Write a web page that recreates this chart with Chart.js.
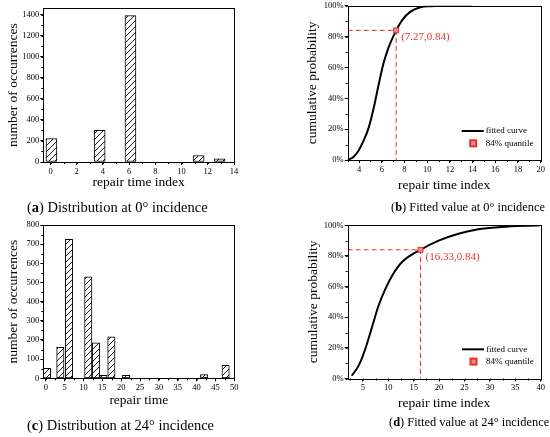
<!DOCTYPE html>
<html>
<head>
<meta charset="utf-8">
<script src="https://cdn.jsdelivr.net/npm/chart.js@4.4.0/dist/chart.umd.min.js"></script>
<style>
  body { margin: 0; background: #fff; }
  #page { position: relative; width: 550px; height: 437px; overflow: hidden; background: #fff; }
  canvas { position: absolute; }
  .caption { position: absolute; font-family: 'Liberation Serif', 'Times New Roman', serif; font-size: 14.5px; line-height: 16px; color: #000; white-space: nowrap; }
  .caption.narrow { font-size: 12.4px; }
</style>
</head>
<body>
<div id="page">
  <canvas id="chartA" width="250" height="200" style="left:0;top:0"></canvas>
  <canvas id="chartB" width="275" height="200" style="left:275px;top:0"></canvas>
  <canvas id="chartC" width="250" height="200" style="left:0;top:220px"></canvas>
  <canvas id="chartD" width="275" height="200" style="left:275px;top:220px"></canvas>
  <div class="caption" style="left:27px;top:199px">(<b>a</b>) Distribution at 0° incidence</div>
  <div class="caption narrow" style="left:391px;top:199px">(<b>b</b>) Fitted value at 0° incidence</div>
  <div class="caption" style="left:27px;top:417px">(<b>c</b>) Distribution at 24° incidence</div>
  <div class="caption narrow" style="left:389px;top:414px">(<b>d</b>) Fitted value at 24° incidence</div>
</div>
<script>
// (a) occurrences at 0° incidence
const aTimes = [0.07, 3.75, 6.1, 11.3, 12.9];
const aCounts = [222, 300, 1390, 62, 30];
const aXRange = [-0.55, 14];
const aYRange = [0, 1460];

// (c) occurrences at 24° incidence
const cTimes = [0.35, 3.87, 6.15, 11.27, 13.3, 15.3, 17.4, 21.3, 42.0, 47.7];
const cCounts = [52, 161, 725, 529, 185, 15, 217, 15, 19, 68];
const cXRange = [-0.65, 50];
const cYRange = [0, 800];

// (b) fitted cumulative curve at 0° incidence
const bX = [3.0, 3.5, 3.95, 4.4, 4.85, 5.3, 5.7, 6.15, 6.6, 7.27, 7.8, 8.5, 9.4, 10.3, 12, 14];
const bY = [0, 0.02, 0.06, 0.125, 0.21, 0.34, 0.48, 0.625, 0.73, 0.84, 0.907, 0.96, 0.99, 0.997, 1, 1];
const bQuant = [7.27, 0.84];
const bXRange = [3, 20];

// (d) fitted cumulative curve at 24° incidence
const dX = [2.8, 4.2, 5.5, 6.8, 8.1, 9.45, 10.8, 12.7, 16.33, 19.9, 23.8, 27.7, 32.3, 36.9, 40];
const dY = [0.018, 0.087, 0.196, 0.337, 0.478, 0.587, 0.674, 0.76, 0.84, 0.90, 0.945, 0.974, 0.989, 0.997, 1.0];
const dQuant = [16.33, 0.84];
const dXRange = [2, 40];

const SERIF = "'Liberation Serif', 'Times New Roman', serif";
const RED = '#e8302c';

// diagonal hatch fill for the bars
function hatch() {
    const c = document.createElement('canvas');
    c.width = 6; c.height = 6;
    const g = c.getContext('2d');
    g.fillStyle = '#fff';
    g.fillRect(0, 0, 6, 6);
    g.strokeStyle = '#000';
    g.lineWidth = 0.9;
    [[-1, 7, 7, -1], [-1, 1, 1, -1], [5, 7, 7, 5]].forEach(([x1, y1, x2, y2]) => {
        g.beginPath(); g.moveTo(x1, y1); g.lineTo(x2, y2); g.stroke();
    });
    return g.createPattern(c, 'repeat');
}

// box round the plot area
const frame = {
    id: 'frame',
    afterDatasetsDraw(chart) {
        const { ctx, chartArea: a } = chart;
        ctx.save();
        ctx.strokeStyle = '#000';
        ctx.lineWidth = 1;
        ctx.strokeRect(Math.round(a.left) + 0.5, Math.round(a.top) + 0.5,
            Math.round(a.right) - Math.round(a.left), Math.round(a.bottom) - Math.round(a.top));
        ctx.restore();
    }
};

// small ticks between the labelled ones
const minorTicks = {
    id: 'minorTicks',
    afterDraw(chart, args, opts) {
        const { ctx, chartArea: a } = chart;
        ctx.save();
        ctx.strokeStyle = '#000';
        ctx.lineWidth = 1;
        ['x', 'y'].forEach(id => {
            const step = opts[id];
            if (!step) return;
            const sc = chart.scales[id];
            for (let v = Math.ceil(sc.min / step) * step; v <= sc.max + 1e-9; v += step) {
                const p = Math.round(sc.getPixelForValue(v)) + 0.5;
                ctx.beginPath();
                if (id === 'x') { ctx.moveTo(p, a.bottom); ctx.lineTo(p, a.bottom + 2); }
                else { ctx.moveTo(a.left, p); ctx.lineTo(a.left - 2, p); }
                ctx.stroke();
            }
        });
        ctx.restore();
    }
};

// legend inside the plot
const innerLegend = {
    id: 'innerLegend',
    afterDraw(chart, args, o) {
        if (o.x === undefined) return;
        const ctx = chart.ctx;
        ctx.save();
        ctx.font = '9px ' + SERIF;
        ctx.textBaseline = 'middle';
        ctx.fillStyle = '#000';
        let y = o.y;
        chart.data.datasets.forEach(ds => {
            if (!ds.label) return;
            if (ds.showLine === false) {
                ctx.fillStyle = ds.backgroundColor;
                ctx.strokeStyle = ds.borderColor;
                ctx.fillRect(o.x + 8.5, y - 3, 6, 6);
                ctx.strokeRect(o.x + 8.5, y - 3, 6, 6);
            } else {
                ctx.strokeStyle = ds.borderColor;
                ctx.lineWidth = ds.borderWidth;
                ctx.beginPath(); ctx.moveTo(o.x, y); ctx.lineTo(o.x + 22, y); ctx.stroke();
            }
            ctx.fillStyle = '#000';
            ctx.fillText(ds.label, o.x + 24, y);
            y += o.gap;
        });
        ctx.restore();
    }
};

// coordinate note beside the quantile point
const pointNote = {
    id: 'pointNote',
    afterDatasetsDraw(chart) {
        const ctx = chart.ctx;
        chart.data.datasets.forEach((ds, i) => {
            if (!ds.note) return;
            const pt = chart.getDatasetMeta(i).data[0];
            ctx.save();
            ctx.font = '11px ' + SERIF;
            ctx.fillStyle = RED;
            ctx.textBaseline = 'middle';
            ctx.fillText(ds.note, pt.x + 5, pt.y + 7);
            ctx.restore();
        });
    }
};

function makeAxis(o) {
    const left = o.position === 'left';
    return {
        type: 'linear',
        position: o.position,
        min: o.range[0],
        max: o.range[1],
        offset: false,
        grid: { display: true, drawOnChartArea: false, drawTicks: true, tickLength: 3, color: '#000', offset: false },
        border: { display: false },
        ticks: {
            stepSize: o.step,
            includeBounds: false,
            autoSkip: false,
            maxRotation: 0,
            color: '#000',
            padding: left ? 1 : 1.5,
            font: { family: SERIF, size: 8.5 },
            callback: o.fmt || (v => String(v))
        },
        title: {
            display: true,
            text: o.title,
            color: '#000',
            font: { family: SERIF, size: 13.5 },
            padding: left ? { top: o.titlePad, bottom: 0 } : { top: 0, bottom: o.titlePad }
        },
        afterFit: s => {
            if (left) s.width = o.size; else s.height = o.size;
            s.paddingLeft = s.paddingRight = s.paddingTop = s.paddingBottom = 0;
        }
    };
}

function baseOptions(pad, xAxis, yAxis, minor, legend) {
    return {
        responsive: false,
        animation: false,
        layout: { padding: pad, autoPadding: false },
        plugins: {
            legend: { display: false },
            tooltip: { enabled: false },
            minorTicks: minor,
            innerLegend: legend || {}
        },
        scales: { x: xAxis, y: yAxis }
    };
}

const pct = v => Math.round(v * 100) + '%';

function barChart(id, times, counts, xr, yr, xStep, yStep, barW, pad, sizes, titles, minor) {
    return new Chart(document.getElementById(id), {
        type: 'bar',
        data: {
            datasets: [{
                data: times.map((t, i) => ({ x: t, y: counts[i] })),
                backgroundColor: hatch(),
                borderColor: '#000',
                borderWidth: 1,
                borderSkipped: false,
                barThickness: barW
            }]
        },
        options: baseOptions(pad,
            makeAxis({ position: 'bottom', range: xr, step: xStep, title: titles[0], size: sizes[0], titlePad: sizes[2] }),
            makeAxis({ position: 'left', range: yr, step: yStep, title: titles[1], size: sizes[1], titlePad: sizes[3] }),
            minor),
        plugins: [frame, minorTicks]
    });
}

function cdfChart(id, xs, ys, quant, xr, xStep, pad, sizes, legendAt, minor) {
    return new Chart(document.getElementById(id), {
        type: 'line',
        data: {
            datasets: [
                {
                    label: 'fitted curve',
                    data: xs.map((x, i) => ({ x, y: ys[i] })),
                    borderColor: '#000',
                    borderWidth: 2,
                    pointRadius: 0,
                    cubicInterpolationMode: 'monotone',
                    order: 1
                },
                {
                    label: '',
                    data: [{ x: xr[0], y: quant[1] }, { x: quant[0], y: quant[1] }, { x: quant[0], y: 0 }],
                    borderColor: RED,
                    borderWidth: 1,
                    borderDash: [5, 3],
                    pointRadius: 0,
                    order: 2
                },
                {
                    label: '84% quantile',
                    data: [{ x: quant[0], y: quant[1] }],
                    showLine: false,
                    pointStyle: 'rect',
                    pointRadius: 3.5,
                    backgroundColor: '#f08a86',
                    borderColor: RED,
                    borderWidth: 1,
                    note: '(' + quant[0] + ',' + quant[1] + ')',
                    order: 0
                }
            ]
        },
        options: baseOptions(pad,
            makeAxis({ position: 'bottom', range: xr, step: xStep, title: 'repair time index', size: sizes[0], titlePad: sizes[2] }),
            makeAxis({ position: 'left', range: [0, 1], step: 0.2, title: 'cumulative probability', size: sizes[1], titlePad: sizes[3], fmt: pct }),
            minor, legendAt),
        plugins: [frame, minorTicks, innerLegend, pointNote]
    });
}

barChart('chartA', aTimes, aCounts, aXRange, aYRange, 2, 200, 11,
    { left: 0, top: 8.3, right: 16, bottom: 0 }, [38, 43.3, 9.9, 4.9],
    ['repair time index', 'number of occurrences'], { x: 1, y: 100 });

barChart('chartC', cTimes, cCounts, cXRange, cYRange, 5, 100, 7.4,
    { left: 0, top: 5, right: 15.7, bottom: 0 }, [41.7, 43.3, 11.9, 5.2],
    ['repair time', 'number of occurrences'], { x: 2.5, y: 50 });

cdfChart('chartB', bX, bY, bQuant, bXRange, 2,
    { left: 0, top: 5.7, right: 9.3, bottom: 0 }, [40, 72.7, 6.9, 29.4],
    { x: 186.7, y: 131, gap: 12.3 }, { x: 1, y: 0.1 });

cdfChart('chartD', dX, dY, dQuant, dXRange, 5,
    { left: 0, top: 5.3, right: 9.3, bottom: 0 }, [41.5, 72.7, 8.9, 29.9],
    { x: 187, y: 129.3, gap: 12.3 }, { x: 2.5, y: 0.1 });
</script>
</body>
</html>
